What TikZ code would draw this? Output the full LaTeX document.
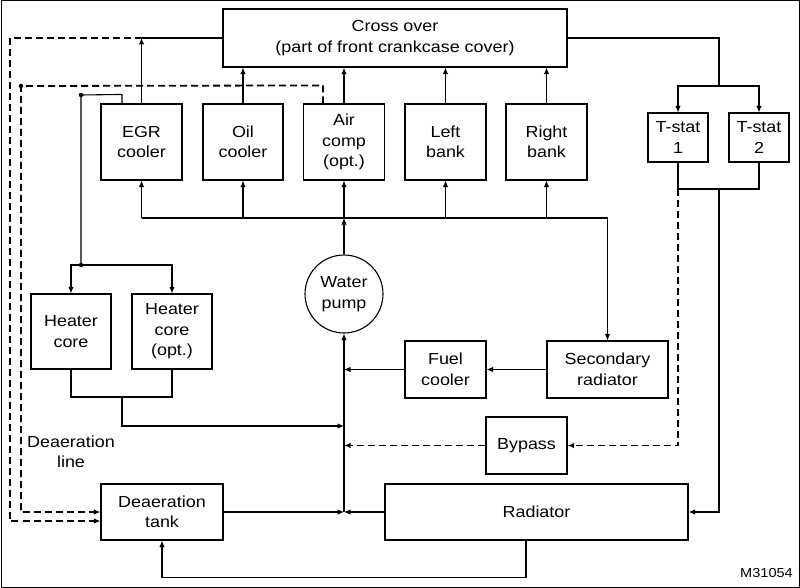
\documentclass[tikz,border=0pt]{standalone}
\usepackage{fontspec}
\setmainfont{Liberation Sans}[FakeStretch=1.12]
\usetikzlibrary{arrows.meta}
\begin{document}
\begin{tikzpicture}[x=1pt,y=-1pt,
  box/.style={draw, line width=1.1pt, inner sep=0pt, align=center, font=\fontsize{16}{20.5}\selectfont},
  txt/.style={inner sep=0pt, align=center, font=\fontsize{16}{19.5}\selectfont},
  ln/.style={line width=1.1pt},
  arr/.style={ln, -{Latex[length=6.5pt,width=5.5pt]}},
  dsh/.style={line width=1.8pt, dash pattern=on 7pt off 4pt},
  darr/.style={dsh, -{Latex[length=6.5pt,width=5.5pt]}},
  dot/.style={circle, fill, inner sep=0pt, minimum size=4.5pt}]
\useasboundingbox (0,0) rectangle (800,588);
\draw[line width=1pt] (1,1) rectangle (799,587);
% boxes
\node[box, minimum width=344pt, minimum height=58pt] (cross) at (395,38) {Cross over\\(part of front crankcase cover)};
\node[box, minimum width=81pt, minimum height=76pt] (egr) at (141.5,142) {EGR\\cooler};
\node[box, minimum width=80pt, minimum height=76pt] (oil) at (243,142) {Oil\\cooler};
\node[box, minimum width=81pt, minimum height=76pt] (air) at (344,142) {Air\\comp\\(opt.)};
\node[box, minimum width=81pt, minimum height=76pt] (left) at (445.5,142) {Left\\bank};
\node[box, minimum width=81pt, minimum height=76pt] (right) at (546.5,142) {Right\\bank};
\node[box, minimum width=60pt, minimum height=49pt] (t1) at (678,137.5) {T-stat\\1};
\node[box, minimum width=60pt, minimum height=49pt] (t2) at (759,137.5) {T-stat\\2};
\node[box, minimum width=80pt, minimum height=75pt] (heater1) at (71,331.5) {Heater\\core};
\node[box, minimum width=80pt, minimum height=75pt] (heater2) at (172,331.5) {Heater\\core\\(opt.)};
\node[box, circle, minimum size=78pt] (pump) at (344,294) {Water\\pump};
\node[box, minimum width=81pt, minimum height=57pt] (fuel) at (445.5,369.5) {Fuel\\cooler};
\node[box, minimum width=121pt, minimum height=57pt] (secrad) at (607.5,369.5) {Secondary\\radiator};
\node[box, minimum width=81pt, minimum height=57pt] (bypass) at (526.5,445.5) {Bypass};
\node[box, minimum width=122pt, minimum height=56pt] (tank) at (162,512) {Deaeration\\tank};
\node[box, minimum width=303pt, minimum height=56pt] (radiator) at (536.5,512) {Radiator};
\node[txt] (dline) at (71,452) {Deaeration\\line};
\node[txt, anchor=east, font=\fontsize{13}{16}\selectfont] (mid) at (793,573) {M31054};
% coordinates
\coordinate (dist) at (344,218);
\coordinate (tsplit) at (719,86);
\coordinate (tjoin) at (719,189);
\coordinate (junc) at (344,512);
\coordinate (hsplit) at (81,265);
\coordinate (hret) at (122,397);
% top connections
\draw[arr] (egr.north) -- (egr.north |- cross.west);
\draw[ln] (cross.west) -- (egr.north |- cross.west);
\draw[arr] (oil.north) -- (oil.north |- cross.south);
\draw[arr] (air.north) -- (air.north |- cross.south);
\draw[arr] (left.north) -- (left.north |- cross.south);
\draw[arr] (right.north) -- (right.north |- cross.south);
% deaeration lines
\draw[darr] (egr.north |- cross.west) -- (10,38) -- (10,521) -- (tank.west |- 10,521);
\draw[darr] ([xshift=-21pt]air.north) -- ++(0,-18) -- (21,86) -- (21,512) -- (tank.west);
\node[dot] (d1) at (21,86) {};
% heater feed
\draw[ln] ([xshift=-19.5pt]egr.north) -- ++(0,-9) -- (81,95) -- (hsplit);
\node[dot] (d2) at (81,95) {};
\node[dot] (d3) at (hsplit) {};
\draw[arr] (hsplit) -| (heater1.north);
\draw[arr] (hsplit) -| (heater2.north);
% heater return
\draw[ln] (heater1.south) |- (hret) -| (heater2.south);
\draw[arr] (hret) |- (pump.south |- 0,426);
% distribution
\draw[arr] (pump.north) -- (dist);
\draw[arr] (egr.south |- dist) -- (secrad.north |- dist) -- (secrad.north);
\draw[arr] (egr.south |- dist) -- (egr.south);
\draw[arr] (oil.south |- dist) -- (oil.south);
\draw[arr] (dist) -- (air.south);
\draw[arr] (left.south |- dist) -- (left.south);
\draw[arr] (right.south |- dist) -- (right.south);
% thermostats
\draw[ln] (cross.east) -| (tsplit);
\draw[arr] (tsplit) -| (t1.north);
\draw[arr] (tsplit) -| (t2.north);
\draw[ln] (t1.south) |- (tjoin) -| (t2.south);
\draw[arr] (tjoin) |- (radiator.east);
\draw[darr] (t1.south |- tjoin) |- (bypass.east);
\draw[darr] (bypass.west) -- (pump.south |- bypass.west);
% fuel cooler
\draw[arr] (secrad.west) -- (fuel.east);
\draw[arr] (fuel.west) -- (pump.south |- fuel.west);
% bottom
\draw[arr] (junc) -- (pump.south);
\draw[arr] (tank.east) -- (junc);
\draw[arr] (radiator.west) -- (junc);
\draw[arr] ([xshift=-10.5pt]radiator.south) -- ++(0,37) -| (tank.south);
\end{tikzpicture}
\end{document}
